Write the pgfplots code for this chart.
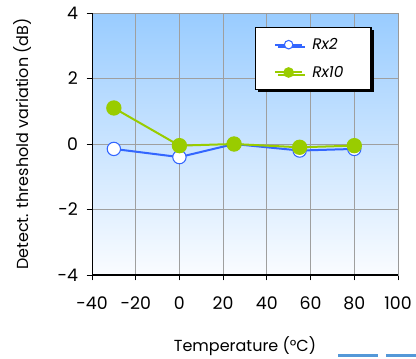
\documentclass[border=0pt]{standalone}
\usepackage{pgfplots}
\pgfplotsset{compat=1.18}
\usepackage{fontspec}
\setmainfont{Poppins}
\usetikzlibrary{shadows}
\definecolor{bluel}{RGB}{51,102,255}
\definecolor{greenl}{RGB}{153,204,0}
\definecolor{bgtop}{RGB}{153,204,255}
\definecolor{bgbot}{RGB}{250,252,255}
\begin{document}
\begin{tikzpicture}
\begin{axis}[
  scale only axis,
  width=229.5pt, height=196.5pt,
  xmin=-40, xmax=100, ymin=-4, ymax=4,
  xtick={-40,-20,...,100}, ytick={-4,-2,...,4},
  grid=major,
  grid style={gray!75, line width=0.6pt},
  axis background/.style={top color=bgtop, bottom color=bgbot},
  axis line style={gray!80, line width=0.6pt},
  tick style={black, line width=0.6pt},
  tick align=outside,
  major tick length=4pt,
  xtick pos=bottom, ytick pos=left,
  /pgf/number format/assume math mode=true,
  tick label style={font=\fontsize{13}{15}\selectfont},
  xticklabel style={yshift=-9pt},
  yticklabel style={xshift=-3pt},
  xlabel={Temperature (°C)},
  ylabel={Detect. threshold variation (dB)},
  label style={font=\fontsize{12}{14}\selectfont},
  xlabel style={yshift=-13pt},
  ylabel style={yshift=13pt},
  legend style={at={(0.533,0.947)}, anchor=north west, draw=black, fill=white,
    line width=0.8pt,
    font=\itshape\fontsize{11.5}{13}\selectfont,
    row sep=7pt, inner xsep=14pt, inner ysep=6pt,
    drop shadow={fill=black, opacity=1, shadow xshift=2pt, shadow yshift=-2pt}},
  legend cell align=left,
  legend image code/.code={%
    \draw[#1, line width=1.5pt] (0pt,0pt) -- (20pt,0pt);
    \draw[#1, mark size=3.2pt] plot coordinates {(10pt,0pt)};},
]
\addplot[color=bluel, line width=1.5pt, mark=*, mark size=5pt,
  mark options={fill=white, draw=bluel, line width=0.8pt}]
  coordinates {(-30,-0.15) (0,-0.4) (25,0) (55,-0.2) (80,-0.15)};
\addlegendentry{\hspace{5pt}\makebox[28pt][l]{Rx2}}
\addplot[color=greenl, line width=1.5pt, mark=*, mark size=5pt,
  mark options={fill=greenl, draw=greenl}]
  coordinates {(-30,1.1) (0,-0.05) (25,0) (55,-0.1) (80,-0.05)};
\addlegendentry{\hspace{5pt}\makebox[28pt][l]{Rx10}}
\draw[black, line width=0.8pt] (axis description cs:0,0) -- (axis description cs:0,1);
\draw[black, line width=0.8pt] (axis description cs:0,0) -- (axis description cs:1,0);
\end{axis}
\pgfresetboundingbox
\path (-69pt,-62.25pt) rectangle (243pt,206.25pt);
\fill[cyan!60!blue!70!white] (184.5pt,-61.5pt) rectangle (214.5pt,-59.5pt);
\fill[cyan!60!blue!70!white] (220.5pt,-61.5pt) rectangle (243pt,-59.5pt);
\end{tikzpicture}
\end{document}
